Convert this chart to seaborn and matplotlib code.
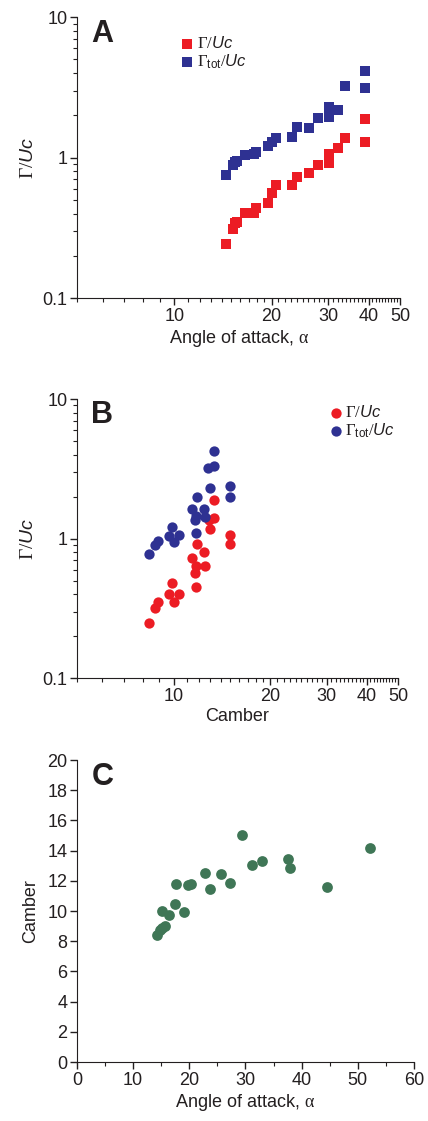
import numpy as np
import pandas as pd
import seaborn as sns
import matplotlib.pyplot as plt
from matplotlib.ticker import FixedLocator, NullFormatter, MultipleLocator

# Panel A: circulation vs angle of attack
angle_a = [14.45, 15.2, 15.45, 15.6, 16.6, 17.6, 17.9, 19.5, 20.1, 20.6,
           23.1, 24.0, 26.1, 27.8, 30.1, 30.1, 32.0, 33.7, 38.8, 39.0]
gamma_a = [0.245, 0.309, 0.342, 0.35, 0.405, 0.401, 0.44, 0.475, 0.565, 0.637,
           0.637, 0.729, 0.778, 0.883, 1.056, 0.912, 1.165, 1.39, 1.87, 1.30]
gamma_tot_a = [0.753, 0.887, 0.937, 0.952, 1.045, 1.062, 1.09, 1.203, 1.30, 1.387,
               1.40, 1.64, 1.62, 1.92, 2.31, 1.94, 2.18, 3.26, 4.14, 3.12]

# Panel B: circulation vs camber
camber_b = [8.38, 8.77, 8.91, 9.67, 9.90, 10.0, 10.39, 11.40, 11.73, 11.68,
            11.71, 11.82, 12.40, 12.52, 12.85, 13.01, 13.33, 13.39, 15.02, 15.02]
gamma_b = [0.25, 0.316, 0.35, 0.40, 0.48, 0.35, 0.40, 0.73, 0.64, 0.57,
           0.45, 0.92, 0.80, 0.64, 1.35, 1.18, 1.40, 1.90, 1.07, 0.92]
camber_b2 = [8.38, 8.77, 8.91, 9.67, 9.90, 10.0, 10.39, 11.40, 11.73, 11.68,
             11.71, 11.82, 12.40, 12.52, 13.01, 12.76, 13.39, 13.39, 15.02, 15.02]
gamma_tot_b = [0.77, 0.90, 0.96, 1.05, 1.21, 0.94, 1.06, 1.64, 1.10, 1.37,
               1.45, 1.98, 1.64, 1.42, 2.31, 3.20, 3.30, 4.25, 2.37, 1.99]

# Panel C: camber vs angle of attack
angle_c = [14.3, 14.8, 15.2, 15.6, 15.1, 16.35, 17.4, 17.65, 19.1, 19.7, 20.3,
           22.8, 23.6, 25.6, 27.25, 29.4, 31.2, 32.9, 37.6, 38.0, 44.5, 52.1]
camber_c = [8.38, 8.75, 8.9, 9.02, 10.0, 9.77, 10.47, 11.77, 9.92, 11.73, 11.77,
            12.55, 11.44, 12.48, 11.84, 15.02, 13.05, 13.34, 13.43, 12.83, 11.62, 14.16]

red = '#ec1c24'
blue = '#2e3192'
green = '#3f7656'
txt = '#231f20'

sns.set_style('ticks')
plt.rcParams['font.family'] = ['Liberation Sans', 'DejaVu Sans']
plt.rcParams['mathtext.fontset'] = 'custom'
plt.rcParams['mathtext.rm'] = 'Liberation Serif'
plt.rcParams['mathtext.it'] = 'Liberation Sans:italic'
plt.rcParams['mathtext.sf'] = 'Liberation Sans'
plt.rcParams['text.color'] = txt
plt.rcParams['axes.labelcolor'] = txt
plt.rcParams['xtick.color'] = txt
plt.rcParams['ytick.color'] = txt
plt.rcParams['axes.edgecolor'] = txt

lab_g = r'$\mathrm{\Gamma}/\mathit{Uc}$'
lab_gt = r'$\mathrm{\Gamma}_{\mathsf{tot}}/\mathit{Uc}$'
lab_alpha = r'Angle of attack, $\mathrm{\alpha}$'

fig = plt.figure(figsize=(4.28, 11.21), dpi=100)
ax_a = fig.add_axes([0.180, 0.734, 0.755, 0.2507])
ax_b = fig.add_axes([0.180, 0.395, 0.750, 0.249])
ax_c = fig.add_axes([0.180, 0.0526, 0.787, 0.2694])


def log_style(ax, xlabel):
    ax.set_xscale('log')
    ax.set_yscale('log')
    ax.set_xlim(5, 50)
    ax.set_ylim(0.1, 10)
    ax.xaxis.set_major_locator(FixedLocator([10, 20, 30, 40, 50]))
    ax.set_xticklabels(['10', '20', '30', '40', '50'])
    ax.xaxis.set_minor_locator(FixedLocator([v for v in range(5, 50) if v % 10]))
    ax.xaxis.set_minor_formatter(NullFormatter())
    ax.yaxis.set_major_locator(FixedLocator([0.1, 1, 10]))
    ax.set_yticklabels(['0.1', '1', '10'])
    minor_y = [m * d for d in (0.1, 1) for m in range(2, 10)]
    ax.yaxis.set_minor_locator(FixedLocator(minor_y))
    ax.yaxis.set_minor_formatter(NullFormatter())
    ax.set_xlabel(xlabel, fontsize=13, labelpad=2)
    ax.set_ylabel(lab_g, fontsize=14, labelpad=4)


for ax in (ax_a, ax_b, ax_c):
    sns.despine(ax=ax)
    ax.tick_params(which='major', length=5, width=1, labelsize=13, direction='out', pad=2)
    ax.tick_params(which='minor', length=3, width=0.8, direction='out')

leg_kw = dict(frameon=False, fontsize=12, handletextpad=0.05, handlelength=1.0,
              labelspacing=0.05, borderaxespad=0, markerscale=1.0)

# A
sns.scatterplot(x=angle_a, y=gamma_a, ax=ax_a, color=red, marker='s', s=45,
                linewidth=0, label=lab_g)
sns.scatterplot(x=angle_a, y=gamma_tot_a, ax=ax_a, color=blue, marker='s', s=45,
                linewidth=0, label=lab_gt)
log_style(ax_a, lab_alpha)
ax_a.legend(loc='upper left', bbox_to_anchor=(0.295, 0.96), **leg_kw)

# B
sns.scatterplot(x=camber_b, y=gamma_b, ax=ax_b, color=red, marker='o', s=55,
                linewidth=0, label=lab_g)
sns.scatterplot(x=camber_b2, y=gamma_tot_b, ax=ax_b, color=blue, marker='o', s=55,
                linewidth=0, label=lab_gt)
log_style(ax_b, 'Camber')
ax_b.legend(loc='upper right', bbox_to_anchor=(1.01, 1.005), **leg_kw)

# C
sns.scatterplot(x=angle_c, y=camber_c, ax=ax_c, color=green, marker='o', s=60,
                linewidth=0)
ax_c.set_xlim(0, 60)
ax_c.set_ylim(0, 20)
ax_c.xaxis.set_major_locator(MultipleLocator(10))
ax_c.xaxis.set_minor_locator(MultipleLocator(5))
ax_c.yaxis.set_major_locator(MultipleLocator(2))
ax_c.set_xlabel(lab_alpha, fontsize=13, labelpad=2)
ax_c.set_ylabel('Camber', fontsize=13, labelpad=6)

for ax, letter in zip((ax_a, ax_b, ax_c), 'ABC'):
    ax.text(0.045, 0.995, letter, transform=ax.transAxes, fontsize=22,
            fontweight='bold', va='top', ha='left', color=txt)

fig.savefig('out.png', dpi=100)
